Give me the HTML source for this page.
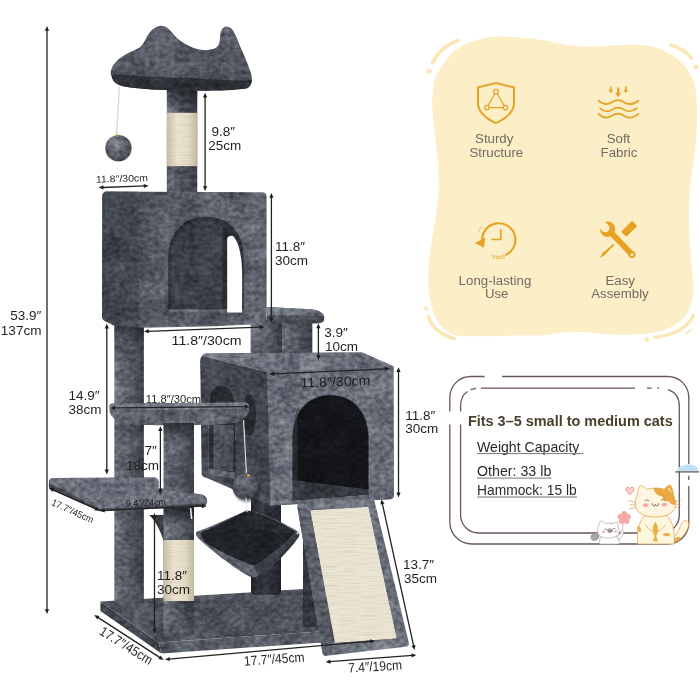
<!DOCTYPE html>
<html>
<head>
<meta charset="utf-8">
<title>Cat Tree Dimensions</title>
<style>
html,body{margin:0;padding:0;background:#fff;}
body{width:700px;height:700px;overflow:hidden;font-family:"Liberation Sans",sans-serif;}
svg{display:block;}
text{font-family:"Liberation Sans",sans-serif;}
.dim{fill:#1f1f1f;font-size:13.5px;}
.dims{fill:#1f1f1f;font-size:9.6px;}
.dims2{fill:#1f1f1f;font-size:10.4px;}
.ln2{stroke:#1c1c1c;stroke-width:1;fill:none;}
.lbl{fill:#716b62;font-size:13.25px;text-anchor:middle;}
.ln{stroke:#222;stroke-width:1.3;fill:none;}
.ah{fill:#1c1c1c;}
</style>
</head>
<body>
<svg width="700" height="700" viewBox="0 0 700 700">
<defs>

<linearGradient id="gPost" x1="0" x2="1" y1="0" y2="0">
<stop offset="0" stop-color="#7c818b"/><stop offset="0.25" stop-color="#6a6f79"/><stop offset="0.62" stop-color="#595e68"/><stop offset="1" stop-color="#42464e"/>
</linearGradient>
<linearGradient id="gPostD" x1="0" x2="1" y1="0" y2="0">
<stop offset="0" stop-color="#2a2d33"/><stop offset="0.4" stop-color="#3a3e46"/><stop offset="1" stop-color="#282b31"/>
</linearGradient>
<linearGradient id="gSisal" x1="0" x2="1" y1="0" y2="0">
<stop offset="0" stop-color="#c8bea6"/><stop offset="0.35" stop-color="#ebe4d0"/><stop offset="0.7" stop-color="#e4dcc6"/><stop offset="1" stop-color="#c2b8a0"/>
</linearGradient>
<linearGradient id="gFront" gradientUnits="userSpaceOnUse" x1="139" y1="200" x2="266" y2="230">
<stop offset="0" stop-color="#575c66"/><stop offset="0.35" stop-color="#666b75"/><stop offset="1" stop-color="#6e737d"/>
</linearGradient>
<linearGradient id="gSide" x1="0" x2="1" y1="0" y2="0">
<stop offset="0" stop-color="#464b54"/><stop offset="1" stop-color="#50555e"/>
</linearGradient>
<linearGradient id="gPerch" x1="0" x2="0" y1="0" y2="1">
<stop offset="0" stop-color="#686d77"/><stop offset="0.6" stop-color="#5a5f69"/><stop offset="1" stop-color="#50555e"/>
</linearGradient>
<linearGradient id="gShade" x1="0" x2="0" y1="0" y2="1"><stop offset="0" stop-color="#22252b" stop-opacity="0.75"/><stop offset="1" stop-color="#22252b" stop-opacity="0"/></linearGradient>
<radialGradient id="gBall" cx="0.4" cy="0.35" r="0.7">
<stop offset="0" stop-color="#868b95"/><stop offset="0.6" stop-color="#686d77"/><stop offset="1" stop-color="#484c55"/>
</radialGradient>
<filter id="plush" x="0" y="0" width="700" height="700" filterUnits="userSpaceOnUse" primitiveUnits="userSpaceOnUse" color-interpolation-filters="sRGB">
<feTurbulence type="fractalNoise" baseFrequency="0.2 0.24" numOctaves="2" seed="11" result="n"/>
<feColorMatrix in="n" type="matrix" values="0.34 0 0 0 0.33  0.34 0 0 0 0.33  0.34 0 0 0 0.33  0 0 0 0 1" result="fg"/>
<feTurbulence type="fractalNoise" baseFrequency="0.04 0.05" numOctaves="2" seed="3" result="c"/>
<feColorMatrix in="c" type="matrix" values="0.26 0 0 0 0.37  0.26 0 0 0 0.37  0.26 0 0 0 0.37  0 0 0 0 1" result="cg"/>
<feComposite in="fg" in2="cg" operator="arithmetic" k1="0" k2="1" k3="1" k4="-0.565" result="ng"/>
<feBlend in="ng" in2="SourceGraphic" mode="overlay" result="m"/>
<feComposite in="m" in2="SourceAlpha" operator="in"/>
</filter>
<filter id="sisalTex" x="0" y="0" width="700" height="700" filterUnits="userSpaceOnUse" primitiveUnits="userSpaceOnUse" color-interpolation-filters="sRGB">
<feTurbulence type="fractalNoise" baseFrequency="0.05 0.9" numOctaves="1" seed="5" result="n"/>
<feColorMatrix in="n" type="matrix" values="0 0 0 0 0.7  0 0 0 0 0.66  0 0 0 0 0.54  -0.8 0 0 0 0.42" result="dark"/>
<feMerge result="m"><feMergeNode in="SourceGraphic"/><feMergeNode in="dark"/></feMerge>
<feComposite in="m" in2="SourceAlpha" operator="in"/>
</filter>
<clipPath id="cpPerch"><path d="M112.6,79 C110.4,75 110.2,72.5 111.4,69 C113.5,63.5 117.5,59.5 122.9,56.1 C128,52.8 134,50.5 138.9,48.1 C142,46 144,42 146.5,37.5 C149.5,32 154,26.6 160.6,25.8 C164.5,25.8 167,27 169.5,29.7 C173,33.5 176,37.5 180,40.5 C185,44.2 191.5,47.5 198.3,49.3 C203,50.4 208,50.4 212,49.3 C215.5,48.3 217.6,46.8 218.9,44.2 C220.2,40.5 219.8,36.5 220.5,33 C221.5,28.8 223.5,26.6 226.5,26.6 C229.5,26.8 231.5,28.4 233,30.6 C236,35 237.6,40 239.6,45 C242,50.5 244.4,55.5 246.5,61 C248.6,66.5 250.8,71.5 251.8,76.7 C252.4,82 250,87.4 246.3,88.6 C233,90.4 215,91 197,90.8 L168.6,90 C155,90 138,89 122.9,86.3 C117,84.5 113.5,82.5 112.6,79 Z"/></clipPath>
<filter id="soft"><feGaussianBlur stdDeviation="1.2"/></filter>
<filter id="soft2"><feGaussianBlur stdDeviation="2.5"/></filter>

</defs>
<rect width="700" height="700" fill="#ffffff"/>

<!-- ===================== YELLOW FEATURE BLOB ===================== -->
<g id="blob">
<path d="M432,103 C432.5,95 433,88 434.5,81 C436.5,74 439.5,69 443,65 C446,59.5 450,55 454.3,51.3 C460,46.5 466,44 471.4,42.1 C480,39 488,36.8 497,36.6 C510,36.4 522,37 533,38.6 C548,41 560,44 570,45.3 C578,46.5 584,46.8 589,46.7 C598,46.5 606,45.5 614.6,45.2 C625,44.6 635,44.5 644,45.2 C652,46 660,48 666,51.4 C673,55 679,60 683,64 C688,70 691,75 693.5,80.5 C695.5,87 696.5,94 696.8,101.4 C697.3,115 697,130 695.9,143 C694.5,158 692,171 690.5,184.3 C689,198 688.5,212 688.9,225.7 C689.3,240 690.5,254 691.8,267 C692.8,276 693.6,284 693.6,290 C693.5,295 692.8,299 691.4,303 C690,307.5 688.5,311 686.3,314.3 C682.5,320 677.5,324 671.4,326.9 C666,329.5 660.5,331.5 654.3,332.6 C643,334.5 632,335 620,334.9 C604,334.5 592,332 576,332 C556,332 548,336 534,335.5 C510,335 486,337 464,336 C461,336 458.5,335.8 456.4,335.5 C449.5,333.5 444,330 440.5,325.6 C437,321.5 433.5,314 431.2,305 C429.5,299 428.5,292 428.5,285.7 C428.5,279 428.4,273 428.6,268 C429,260 430,254 431.4,243 C432.8,234 434.6,224 435.8,216 C437,208 438.4,200 438.7,192 C438.9,186 438.8,181 438.6,176 C438.3,165 437,154 435.7,142.9 C434,129 432.5,115 432,103 Z" fill="#fcefc7"/>
<g stroke="#f9e7b6" stroke-width="3.6" fill="none" stroke-linecap="round">
<path d="M432.6,62.7 Q440.4,46.4 458.3,40.4"/>
<path d="M670.9,45 Q684,48.5 691.4,58.1"/>
<path d="M428.3,316.8 Q434,333 454.4,338.4"/>
<path d="M654.8,337.5 Q684,334 693.5,315.5"/>
<path d="M685.5,333.5 L691.5,330" stroke-width="1.8"/>
</g>
<g fill="#f9e7b6">
<circle cx="429.1" cy="71.3" r="2.5"/>
<circle cx="696" cy="67" r="2.5"/>
<circle cx="426.2" cy="308.5" r="2.2"/>
<circle cx="646.9" cy="339.7" r="2.4"/>
</g>
</g>

<!-- ===================== ICONS ===================== -->
<g id="icons" fill="none" stroke="#e7a224" stroke-linecap="round" stroke-linejoin="round">
<!-- shield -->
<path d="M496,83 L514,87.4 L514,103 C514,112 506,118.5 496,123.2 C486,118.5 478,112 478,103 L478,87.4 Z" stroke-width="2"/>
<path d="M496,91.7 L486.9,107.6 L505.4,107.6 Z" stroke-width="1.2"/>
<circle cx="496" cy="91.7" r="2.3" fill="#fcefc7" stroke-width="1.2"/>
<circle cx="486.9" cy="107.6" r="2.3" fill="#fcefc7" stroke-width="1.2"/>
<circle cx="505.4" cy="107.6" r="2.3" fill="#fcefc7" stroke-width="1.2"/>
<!-- waves -->
<path d="M598.6,100.7 C603,104.8 608,105 612,102.3 C616,99.4 620,99.4 624,102.3 C628,105 633,104.8 638.4,100.7" stroke-width="1.7"/>
<path d="M600.2,108.3 C604,111.8 608.5,112 612,109.6 C616,106.9 620,106.9 624,109.6 C627.5,112 632,111.8 636.8,108.3" stroke-width="1.7"/>
<path d="M598.6,113.8 C603,118.3 608,118.5 612,115.8 C616,112.9 620,112.9 624,115.8 C628,118.5 633,118.3 638.4,113.8" stroke-width="1.7"/>
<g fill="#e7a224" stroke="none">
<path d="M610,86.6 h1.6 v3.4 h1.5 l-2.3,3.2 l-2.3,-3.2 h1.5 Z"/>
<path d="M617.1,87.6 h2.2 v5.2 h1.9 l-3,4.4 l-3,-4.4 h1.9 Z"/>
<path d="M625,86.6 h1.6 v3.4 h1.5 l-2.3,3.2 l-2.3,-3.2 h1.5 Z"/>
</g>
<!-- clock -->
<path d="M482.2,240 A16.6,16.6 0 1 1 505.5,255" stroke-width="2.1" stroke-linecap="butt"/>
<path d="M504.5,255.6 A16.6,16.6 0 0 1 492,255.4" stroke-width="2" stroke-dasharray="1.1,1.3" stroke-linecap="butt"/>
<path d="M505,258 A19,19 0 0 1 493,257.8" stroke-width="0.6"/>
<path d="M478.4,232 A20,20 0 0 1 481.5,226.5" stroke-width="0.6"/>
<path d="M475,242.9 L485.3,237.4 L483.9,247.6 Z" fill="#e7a224" stroke="none"/>
<path d="M500.7,229.3 L500.7,239.5 L491.4,239.5" stroke-width="1.7" stroke-linecap="butt" stroke-linejoin="miter"/>
<!-- tools -->
<g fill="#e7a224" stroke="none">
<circle cx="607.6" cy="229.2" r="7.7"/>
<path d="M610.5,232.1 L632,254.6" stroke="#e7a224" stroke-width="5.8" stroke-linecap="butt"/>
<circle cx="632" cy="254.6" r="3.5"/>
<circle cx="632" cy="254.7" r="1.5" fill="#fcefc7"/>
<g fill="#fcefc7">
<circle cx="605.2" cy="228" r="4.3"/>
<path d="M608.24,224.96 L602.16,231.04 L593.1,222 L599.2,215.9 Z"/>
</g>
<rect x="-7.8" y="-3.65" width="15.6" height="7.3" rx="1.2" transform="translate(629.2,228.8) rotate(-45)"/>
<path d="M613.0,243.8 L614.3,245.1 L607.2,252.3 C606.6,254 604.6,255.6 600,257.8 C602,253.4 603.6,251.4 605.6,250.8 Z"/>
</g>
</g>
<g id="labels" opacity="0.995">
<text class="lbl" x="494.2" y="143.1">Sturdy</text>
<text class="lbl" x="496.3" y="157.3">Structure</text>
<text class="lbl" x="618.5" y="143.1">Soft</text>
<text class="lbl" x="619" y="157.3">Fabric</text>
<text class="lbl" x="495" y="284.6" textLength="72.8" lengthAdjust="spacing">Long-lasting</text>
<text class="lbl" x="496.7" y="298.2">Use</text>
<text class="lbl" x="620.2" y="284.6">Easy</text>
<text class="lbl" x="620" y="298.2">Assembly</text>
</g>


<!-- ===================== INFO PANEL ===================== -->
<g id="panel" opacity="0.995">
<g fill="none" stroke="#6a5758" stroke-width="1.3">
<!-- outer frame -->
<path d="M502.2,376.5 L667.8,376.5 A21,21 0 0 1 688.8,397.5 L688.8,464"/>
<path d="M688.8,475.7 L688.8,480"/>
<path d="M688.8,486 L688.8,523 A21,21 0 0 1 667.8,544 L471.8,544 A22,22 0 0 1 449.8,522 L449.8,424.4"/>
<path d="M449.8,411.4 L449.8,397.5 A21,21 0 0 1 470.8,376.5 L484.6,376.5"/>
<!-- inner frame -->
<path d="M480.9,388.2 L635,388.2"/>
<path d="M647,388.2 L651.7,388.2 M657.3,388.2 L659,388.2"/>
<path d="M668,389.6 C675,392 679.3,398 679.3,406 L679.3,515 A18,18 0 0 1 661.3,533 L478.6,533 A18,18 0 0 1 460.6,515 L460.6,424.4"/>
<path d="M460.6,411.4 L460.6,406 C460.6,399 463,394.5 467.5,391.5"/>
<path d="M470.6,389.6 L476,388.4"/>
</g>
<text x="467.9" y="425.8" font-size="14.5" font-weight="bold" fill="#4a3f2b" textLength="204.8" lengthAdjust="spacingAndGlyphs">Fits 3–5 small to medium cats</text>
<g font-size="14.4" fill="#2b2b2b">
<text x="477" y="451.7" textLength="102.4" lengthAdjust="spacingAndGlyphs">Weight Capacity</text>
<text x="477" y="475.7" textLength="74.3" lengthAdjust="spacingAndGlyphs">Other: 33 lb</text>
<text x="477" y="494.5" textLength="99.7" lengthAdjust="spacingAndGlyphs">Hammock: 15 lb</text>
</g>
<g stroke="#777" stroke-width="1">
<path d="M477,453.6 L583.5,453.6 M477,478.1 L551.5,478.1 M477,497 L577,497"/>
</g>
<!-- lamp -->
<path d="M677,471.3 C677.5,466.5 683,464.4 688.6,464.4 C694,464.4 698.6,466.8 698.6,471.3 Z" fill="#bfe3f4"/>
<path d="M675.2,471.9 L699,471.9" stroke="#6a5758" stroke-width="1.3"/>
<!-- heart -->
<path d="M630,494.6 C627,492.4 625.6,490.4 626.2,488.6 C626.9,486.8 629,486.9 630,488.6 C631,486.9 633.2,486.8 633.8,488.6 C634.4,490.4 633,492.4 630,494.6 Z" fill="#fbd3cf" stroke="#ee8f90" stroke-width="0.9"/>
<!-- big cat tail -->
<path d="M673,538 C678,534 679.5,528 681.5,523.5 C683,520 687,519.6 688.3,522.6 C689.6,526 686,533 681.5,537.5 C678.5,540.5 675,542 672.5,542.4 Z" fill="#fff6df" stroke="#e2ab55" stroke-width="0.8"/>
<path d="M674,538.6 C676.5,536.8 679.2,536.4 681.5,537.5 C679,540.3 676,541.8 673,542.3 Z" fill="#eaa945"/>
<!-- big cat body -->
<path d="M644.5,516 C639,521 636.4,532 637.8,544 L674,544 C675.4,532 672.6,521 667,515.6 Z" fill="#fff6df" stroke="#e2ab55" stroke-width="0.8"/>
<path d="M637.6,526 C640.5,526 641.6,529.5 640.4,532.5 C639.4,531.8 638,531 637.3,531 Z" fill="#eaa945"/>
<path d="M662.8,534.4 C665.5,532.4 669.6,532.6 670.5,534.6 C669,536.6 665,537 662.8,534.4 Z" fill="#eaa945"/>
<!-- arms -->
<path d="M645.5,524.5 C648,529 651,531 654.5,531.6 M665.5,524.5 C663,529 660,531 656.5,531.6" fill="none" stroke="#e2ab55" stroke-width="0.8"/>
<!-- fish -->
<path d="M655.4,522.6 C658.2,526 658.4,531.5 655.9,536.2 L657.6,541.4 C656.2,540.8 654.7,540.8 653.3,541.4 L654.9,536.2 C652.4,531.5 652.6,526 655.4,522.6 Z" fill="#f0b03f" stroke="#d99a2f" stroke-width="0.5"/>
<!-- big cat head -->
<path d="M637.2,494.8 C637.6,490 639,486.2 640.3,485.6 C642,485.4 645,487.4 646.8,489.2 C652,487.6 659,487.6 664.2,489.2 C666,487 668.6,485 669.9,485 C671.6,485.6 673.2,490.6 673.6,495.6 C675.6,499.2 676.2,503.6 674.8,507.8 C672.4,514 664.6,517 655.4,517 C646.2,517 638.4,514 636,507.8 C634.6,503 635.2,498.6 637.2,494.8 Z" fill="#fff6df" stroke="#e2ab55" stroke-width="0.8"/>
<path d="M653.6,488.3 C657,487.8 661,488.2 664.2,489.2 C666,487 668.6,485 669.9,485 C671.6,485.6 673.2,490.6 673.6,495.6 C675,498.4 675.8,501.4 675.5,504.4 C672.8,505.4 670.2,504 669.4,501.6 C666,502 662.6,499.6 662.4,496.2 C658,496.4 654,492.6 653.6,488.3 Z" fill="#eaa945"/>
<path d="M667.4,489.6 C668.4,488.4 669.6,487.6 670,487.8 C670.8,489 671.4,491.4 671.6,493.6 Z" fill="#f6cf8f"/>
<!-- face -->
<g fill="none" stroke="#7a5a3a" stroke-width="0.8" stroke-linecap="round">
<path d="M645,500.6 Q646.9,498.6 648.8,500.6"/>
<path d="M661.2,500.2 Q663.1,498.2 665,500.2"/>
<path d="M652.2,503.6 Q652.6,506 654,506 Q655.4,506 655.4,504.2 Q655.6,506 657,506 Q658.6,506 658.8,503.6"/>
</g>
<ellipse cx="645.6" cy="505.2" rx="2.7" ry="1.9" fill="#f7a7ad"/>
<ellipse cx="664.4" cy="504.6" rx="2.7" ry="1.9" fill="#f7a7ad"/>
<g stroke="#b98b5a" stroke-width="0.6" stroke-linecap="round">
<path d="M628.8,500.6 L634.8,502.2 M629.8,504.8 L635.2,505 M629.6,509 L635.6,507.4"/>
<path d="M675.4,501.6 L680.6,499.6 M675.8,504 L680.2,504.6 M675.4,506.6 L679.4,508.4"/>
</g>
<!-- flower -->
<path d="M622.3,530.5 L623.6,521" stroke="#e9a5a0" stroke-width="0.8"/>
<g fill="#f6a9a8">
<circle cx="624.2" cy="513.9" r="2.9"/><circle cx="628" cy="516.6" r="2.9"/><circle cx="626.6" cy="521" r="2.9"/><circle cx="621.8" cy="521" r="2.9"/><circle cx="620.4" cy="516.6" r="2.9"/><circle cx="624.2" cy="517.8" r="3"/>
</g>
<!-- small cat -->
<ellipse cx="595" cy="536.8" rx="4.2" ry="3.4" fill="#a9a7a8" stroke="#8b8788" stroke-width="0.6" transform="rotate(-25 595 536.8)"/>
<path d="M599.6,544 C599,540 600.4,537.4 602.5,536.6 L616,536.6 C618.6,537.6 619.8,540.4 619.4,544 Z" fill="#ffffff" stroke="#aaa5a5" stroke-width="0.7"/>
<path d="M617.4,536.8 C619.6,535.6 621.2,533 621.4,530.4 C622.2,529.8 623.4,530.4 623.4,531.6 C623.4,535 621.4,538.4 618.4,540 Z" fill="#ffffff" stroke="#aaa5a5" stroke-width="0.7"/>
<path d="M598.4,526.4 C598.8,523.6 600,521.2 601,520.8 C602.4,521 604,522.4 605.2,523.6 C607.6,523 610.6,523 613,523.6 C614.4,522.6 616.4,521.8 617.4,522.2 C618,523.4 618.2,525.6 618,527.6 C619.6,530 619.6,533 617.8,535 C615.6,537.4 611.6,538 608.2,538 C604.6,538 600.8,537.2 598.8,535 C597,532.8 597,529.2 598.4,526.4 Z" fill="#ffffff" stroke="#aaa5a5" stroke-width="0.7"/>
<ellipse cx="610" cy="530.6" rx="3" ry="2.3" fill="#a9a7a8"/>
<ellipse cx="603.6" cy="532" rx="1.7" ry="1.2" fill="#f7b3b6"/>
<ellipse cx="615.8" cy="531.4" rx="1.7" ry="1.2" fill="#f7b3b6"/>
<g fill="none" stroke="#5a4a4a" stroke-width="0.7" stroke-linecap="round">
<path d="M604.4,529.4 Q605.4,528.4 606.4,529.4 M613.2,528.8 Q614.2,527.8 615.2,528.8"/>
<path d="M608.6,530.8 Q609.2,531.8 610,531 Q610.8,531.8 611.4,530.8"/>
</g>

</g>


<!-- ===================== CAT TREE ===================== -->
<g id="tree" filter="url(#plush)">
<!-- base -->
<g id="base">
<path d="M100.4,601.6 L303,589 L345,589 L372,628 L158.7,642.4 Z" fill="#5a5f69"/>
<path d="M100.4,601.6 L158.7,642.4 L161.3,653.6 L100.4,611 Z" fill="#4d525b"/>
<path d="M158.7,642.4 L372,628 L374,639 L161.3,653.6 Z" fill="#676c76"/>
</g>
<!-- rear posts -->
<rect x="114.3" y="322" width="29.6" height="282" rx="3" fill="url(#gPost)"/>
<rect x="114.3" y="326" width="29.6" height="18" fill="url(#gShade)"/>
<rect x="251" y="495" width="30" height="100" rx="4" fill="url(#gPostD)"/>
<rect x="303" y="500" width="19" height="127" rx="3" fill="#3a3e46"/>
<!-- top post -->
<rect x="166.8" y="84" width="30.5" height="108" fill="url(#gPost)"/>
<rect x="166.8" y="88" width="30.5" height="22" fill="url(#gShade)"/>
<!-- top perch -->
<g id="topperch">
<path d="M112.6,79 C110.4,75 110.2,72.5 111.4,69 C113.5,63.5 117.5,59.5 122.9,56.1 C128,52.8 134,50.5 138.9,48.1 C142,46 144,42 146.5,37.5 C149.5,32 154,26.6 160.6,25.8 C164.5,25.8 167,27 169.5,29.7 C173,33.5 176,37.5 180,40.5 C185,44.2 191.5,47.5 198.3,49.3 C203,50.4 208,50.4 212,49.3 C215.5,48.3 217.6,46.8 218.9,44.2 C220.2,40.5 219.8,36.5 220.5,33 C221.5,28.8 223.5,26.6 226.5,26.6 C229.5,26.8 231.5,28.4 233,30.6 C236,35 237.6,40 239.6,45 C242,50.5 244.4,55.5 246.5,61 C248.6,66.5 250.8,71.5 251.8,76.7 C252.4,82 250,87.4 246.3,88.6 C233,90.4 215,91 197,90.8 L168.6,90 C155,90 138,89 122.9,86.3 C117,84.5 113.5,82.5 112.6,79 Z" fill="url(#gPerch)"/>
<!-- underside -->
<path d="M112.2,75.6 C118,75 124,75.6 130,76.4 C143,77.6 156,78 168,78.4 C179,78.8 190,79.4 200,79.8 C216,80.6 232,81.4 246,81.8 C248.4,81.8 250.4,81.2 251.8,80 C252,84 249.6,87.6 246.3,88.6 C233,90.4 215,91 197,90.8 L168.6,90 C155,90 138,89 122.9,86.3 C117,84.5 113.5,82.5 112.6,79 C112.2,78 112,76.8 112.2,75.6 Z" fill="#363a41"/>
<path d="M112.2,75.2 C118,74.6 124,75.2 130,76 C143,77.2 156,77.6 168,78 C179,78.4 190,79 200,79.4 C216,80.2 232,81 246,81.4 C248.4,81.4 250.4,80.8 251.8,79.6" fill="none" stroke="#2e3137" stroke-width="1.1"/>
<!-- highlights -->
<g clip-path="url(#cpPerch)">
<path d="M150,36 C154,29.5 158,27.5 162,28.2 C167,30 172,37 178,42 C170,42 158,42 150,36 Z" fill="#7b808a" opacity="0.5" filter="url(#soft)"/>
<path d="M224,30 C227,28 230,30 232.5,35 C236,42 240,52 244,61 C236,56 228,46 224,30 Z" fill="#7b808a" opacity="0.45" filter="url(#soft)"/>
<path d="M118,64 C135,54 160,52 185,54 C205,56 225,58 245,68 C220,74 150,74 118,64 Z" fill="#71767f" opacity="0.4" filter="url(#soft2)"/>
<path d="M185,48 C195,52 210,53 220,47 C222,56 200,60 185,48 Z" fill="#3d4149" opacity="0.5" filter="url(#soft2)"/>
</g>
</g>
<!-- upper condo -->
<g id="ucondo">
<path d="M106.5,191.6 L262.5,192.2 C265,192.2 266.6,193.8 266.6,196.4 L266.6,323.8 L215,326.3 L143,327.8 L139,327.6 L114,325.4 L105,321 C103,320 102,318.6 102,316.4 L102.4,195.8 C102.4,193.2 104,191.6 106.5,191.6 Z" fill="url(#gFront)"/>
<path d="M106.5,191.6 L139,191.8 L139,327.6 L114,325.4 L105,321 C103,320 102,318.6 102,316.4 L102.4,195.8 C102.4,193.2 104,191.6 106.5,191.6 Z" fill="url(#gSide)"/>
<!-- opening -->
<path d="M167.4,311.2 L167.4,258 C167.4,232 183,215.9 206,215.9 C229,215.9 244.5,232 244.5,258 L244.5,311.2 Z" fill="#383c43"/>
<path d="M171.5,308.6 L171.5,258 C171.5,236 185,220.4 205,220.4 C213,220.4 219,222.6 222.6,226 L222.6,308.6 Z" fill="#454a53"/>
<path d="M222.6,226 C224.4,227.6 226,229.4 227.2,231.4 L227.2,308.6 L222.6,308.6 Z" fill="#2f3239"/>
<path d="M168,309.4 L244.5,309.4 L244.5,324 L168,325.2 Z" fill="#5f646e"/>
<path d="M168,309.4 L244.5,309.4 L244.5,312.6 L168,312.6 Z" fill="#747983"/>
<path d="M167.4,311.2 L167.4,258 C167.4,232 183,215.9 206,215.9 C229,215.9 244.5,232 244.5,258 L244.5,311.2" fill="none" stroke="#6b707a" stroke-width="1.6" opacity="0.8"/>
</g>
<!-- shelf + posts -->
<g id="shelf">
<rect x="250.6" y="320" width="31.6" height="35" rx="3" fill="url(#gPost)"/>
<rect x="282" y="320" width="30.4" height="39" rx="4" fill="url(#gPost)"/>
<path d="M266.6,307 L310.6,309.2 C317,309.8 322,312 324.2,315.7 L324.2,320 C323.6,322.4 321,323.4 317,323.4 L266.6,323 Z" fill="#565b65"/>
<path d="M266.6,307 L310.6,309.2 C317,309.8 322,312 324.2,315.7 L266.6,315 Z" fill="#7d828c"/>
</g>
<!-- lower condo -->
<g id="lcondo">
<path d="M206,353.4 L362,352.4 L393.4,366.2 L393.8,496 L390.6,499.3 L270.6,505.4 L204.4,477 L200.4,361 Z" fill="#595e68"/>
<!-- top face -->
<path d="M205,353.4 L362,352.4 L393.4,366.2 L267,372.6 L201.4,358.6 C201.4,355.6 203,353.6 205,353.4 Z" fill="#7c818b"/>
<!-- side face -->
<path d="M202.6,356.2 C208,357.6 240,366 267,372.4 L270.6,505 C262,503 254,499 246,493.6 C240,489.6 236,487.4 232,486 L204.4,477 C202.6,476.4 201.6,475.2 201.6,473.4 L200.2,361 C200.2,358.4 201,356.6 202.6,356.2 Z" fill="#4c5059"/>
<!-- front face -->
<path d="M267,372.4 L393.4,366.2 L393.8,496 C393.8,498 392.6,499.2 390.6,499.3 L270.6,505.4 Z" fill="#787d87"/>
<!-- side openings -->
<path d="M208.6,474 L208.6,406 C208.6,392 213.6,385 221,385 C229.6,385 235.6,394 235.6,410 L235.6,479 Z" fill="#2f3339"/>
<path d="M213.4,469.4 L213.4,425 L233.6,425 L233.6,471.4 Z" fill="#585d67"/>
<path d="M209.4,468.6 L234.6,472.4 L235.4,479 L209.4,474.6 Z" fill="#6a6f79"/>
<ellipse cx="249.4" cy="415" rx="6.6" ry="21" fill="#2d3036"/>
<path d="M208.6,474 L208.6,406 C208.6,392 213.6,385 221,385 C229.6,385 235.6,394 235.6,410 L235.6,440" fill="none" stroke="#6f747e" stroke-width="1.2" opacity="0.6"/>
<!-- front opening -->
<path d="M292,500.4 L292,437 C292,412 308,394.5 330.5,394.5 C353,394.5 369,412 369,437 L369,494.2 Z" fill="#16181d"/>
<path d="M292.6,499 L292.6,440 C292.6,428 294.6,416 297.6,409 L297.6,482 Z" fill="#30343b" opacity="0.7"/>
<path d="M292,480 L369,489.5 L369,494.2 L292,500.5 Z" fill="#3f434b"/>
<path d="M292,500.4 L292,437 C292,412 308,394.5 330.5,394.5 C353,394.5 369,412 369,437 L369,494.2" fill="none" stroke="#858a94" stroke-width="1.4" opacity="0.6"/>
</g>
<!-- mid perch -->
<g id="midperch">
<path d="M109.4,406.4 C109.4,404.8 110.6,403.8 113,403.6 L245,402.4 C247.8,402.4 249.2,403.8 249.2,406.2 L249,411 C247.6,417.6 240,422.4 228,423.8 C205,425.6 155,425.8 130,424.2 C118,423 110.6,418 109.6,411.6 Z" fill="#6c717b"/>
<path d="M109.4,406.4 C109.4,404.8 110.6,403.8 113,403.6 L245,402.4 C247.8,402.4 249.2,403.8 249.2,406.2 C249,407.6 248,408.4 246,408.6 C200,410.2 150,410.4 113,409.2 C110.8,409 109.6,408 109.4,406.4 Z" fill="#848993"/>
</g>
<!-- second post -->
<rect x="163.5" y="423" width="30.5" height="211.5" rx="3" fill="url(#gPost)"/>
<rect x="163.5" y="423" width="30.5" height="16" fill="url(#gShade)"/>
<rect x="163.5" y="508" width="30.5" height="16" fill="url(#gShade)"/>
<!-- hammock -->
<g id="hammock">
<path d="M149,515 C155,520 160,530 163.8,541 L163.8,515 Z" fill="#3a3e46"/>
<path d="M197,531.6 C212,526 232,517 246.7,510.2 C262,512 282,522 297,531 C299.6,532.4 300,535 298.6,537 C288,552 272,568 258,576 C254.6,577.8 250.6,577.4 247,575.2 C230,565 212,551 198,538 C195.6,535.6 195.4,532.8 197,531.6 Z" fill="#666b75"/>
<path d="M258,576 C272,568 288,552 298.6,537 C299.4,535.6 299.6,534 299,532.8 L294,533 C283,546 268,558.6 254,566.4 Z" fill="#40444c"/>
<path d="M200,533 C214,527 233,517.6 246.7,510.8 C262,512.6 281,522.4 295,532 C284,545 268,558 254,565.8 C238,560 219,551.4 205,542.6 Z" fill="#24272d"/>
<path d="M246.7,510.8 C262,512.6 281,522.4 295,532 C280,534 262,532 246,526 Z" fill="#30333a" opacity="0.8"/>
</g>
<!-- L platform -->
<g id="lplat">
<path d="M53,478 L154,477.4 C157,477.4 158.4,479 158.4,481.6 L158.4,488 L201,494.4 C205,495 207.4,498 207.2,501 C207,503.6 206,505.6 204.6,506.2 L101,511.4 C99.6,511.4 98.6,511 97.4,510.4 L50.6,489.4 C49.2,488.6 48.6,487.4 48.8,485.4 L49,481.6 C49.4,479.2 50.8,478 53,478 Z" fill="#50555e"/>
<path d="M53,478 L154,477.4 C157,477.4 158.4,479 158.4,481.6 L158.4,488 L201,494.4 C205,495 207.4,498 207.2,501 C207,502.4 206.4,503.2 205.6,503.6 L100.4,508.8 C99.4,508.8 98.6,508.6 97.6,508.2 L49.4,483 C49.6,480 50.8,478 53,478 Z" fill="#7b808a"/>
</g>
<!-- ramp -->
<g id="ramp">
<path d="M300,503.6 L370.6,498.4 C372.6,498.2 374,499.2 374.6,501.4 L408.8,642.6 C409.4,645 408.2,646.6 405.8,646.8 L326.6,655.8 C324.2,656 322.8,655 322.4,652.6 L297.4,507.4 C297,505 297.8,503.8 300,503.6 Z" fill="#7d828c"/>
<path d="M297.4,507.4 L322.4,652.6 C322.8,655 324.2,656 326.6,655.8 L334.9,643 L310.2,510 Z" fill="#676c76"/>
</g>
<!-- balls + strings -->
<g id="balls">
<circle cx="118.5" cy="148.2" r="13.2" fill="url(#gBall)"/>
<ellipse cx="247" cy="489" rx="13.5" ry="13" fill="#33363d" opacity="0.7" filter="url(#soft)"/>
<circle cx="245.2" cy="486.8" r="12.8" fill="url(#gBall)"/>
</g>



</g>


<!-- ===================== SISAL / WHITE OVERLAYS ===================== -->
<g id="sisal" filter="url(#sisalTex)">
<rect x="166.8" y="112.6" width="30.5" height="53.8" fill="url(#gSisal)"/>
<rect x="163.5" y="540" width="30.5" height="61" fill="url(#gSisal)"/>
<path d="M310.2,510.2 L368.4,506.8 L396.8,638.4 L334.9,643 Z" fill="#e9e4d3"/>
</g>
<g id="whites">
<path d="M227.2,312.4 L227.2,238 C229,236 231.5,235.4 233.2,236.2 C238.4,241.4 242,255 242.2,275 L242,312.4 L227.2,312.4 Z" fill="#ffffff"/>
<path d="M119.4,86.3 C118.6,100 117.6,118 116.6,134.6" stroke="#d9d9d9" stroke-width="1.3" fill="none"/>
<path d="M243.6,420 L246.4,473.4" stroke="#e4e4e4" stroke-width="1.1" fill="none"/>
<path d="M246,498 L247,512" stroke="#e4e4e4" stroke-width="1.1" fill="none"/>
<path d="M190.6,508 L191.6,519" stroke="#e8e8e8" stroke-width="1.6"/>
<path d="M300,530 L297,534" stroke="#e8e8e8" stroke-width="1.6"/>
<circle cx="116.8" cy="135.2" r="1.3" fill="#c9a23a"/>
<circle cx="248.4" cy="475.4" r="1.4" fill="#d4a62a"/>
</g>
<!-- ===================== DIMENSIONS ===================== -->
<g id="dims" opacity="0.995">
<path class="ln" d="M47.0,29.8 L47.0,610.2"/>
<path class="ah" d="M47.0,26.0 L44.9,30.8 L49.1,30.8 Z M47.0,614.0 L44.9,609.2 L49.1,609.2 Z"/>
<text class="dim" x="41.4" y="320.3" text-anchor="end">53.9″</text>
<text class="dim" x="41.4" y="334.5" text-anchor="end">137cm</text>
<path class="ln" d="M205.1,96.5 L205.1,187.2"/>
<path class="ah" d="M205.1,92.7 L203.0,97.5 L207.2,97.5 Z M205.1,191.0 L203.0,186.2 L207.2,186.2 Z"/>
<text class="dim" x="211.4" y="135.8">9.8″</text>
<text class="dim" x="208.2" y="150">25cm</text>
<path class="ln" d="M102.4,187.5 L144.8,185.9"/>
<path class="ah" d="M98.6,187.6 L103.5,189.5 L103.3,185.3 Z M148.6,185.8 L143.9,188.1 L143.7,183.9 Z"/>
<text class="dims" transform="translate(95.9,182.7) rotate(-1.8)" textLength="52.3" lengthAdjust="spacingAndGlyphs">11.8″/30cm</text>
<path class="ln" d="M271.4,196.8 L271.4,318.7"/>
<path class="ah" d="M271.4,193.0 L269.3,197.8 L273.5,197.8 Z M271.4,322.5 L269.3,317.7 L273.5,317.7 Z"/>
<text class="dim" x="274.9" y="251.4">11.8″</text>
<text class="dim" x="274.9" y="265.3">30cm</text>
<path class="ln" d="M147.8,331.3 L260.8,327.1"/>
<path class="ah" d="M144.0,331.4 L148.9,333.3 L148.7,329.1 Z M264.6,327.0 L259.9,329.3 L259.7,325.1 Z"/>
<text class="dim" x="171.6" y="345.4" textLength="70" lengthAdjust="spacingAndGlyphs">11.8″/30cm</text>
<path class="ln" d="M318.4,327.2 L318.4,356.2"/>
<path class="ah" d="M318.4,323.4 L316.3,328.2 L320.5,328.2 Z M318.4,360.0 L316.3,355.2 L320.5,355.2 Z"/>
<text class="dim" x="324.2" y="337.1">3.9″</text>
<text class="dim" x="325" y="350.7">10cm</text>
<path class="ln" d="M273.3,373.8 L386.0,368.8"/>
<path class="ah" d="M269.5,374.0 L274.4,375.9 L274.2,371.7 Z M389.8,368.6 L385.1,370.9 L384.9,366.7 Z"/>
<text class="dim" transform="translate(300.7,387.6) rotate(-2.2)" textLength="70" lengthAdjust="spacingAndGlyphs">11.8″/30cm</text>
<path class="ln" d="M398.5,371.0 L398.5,493.6"/>
<path class="ah" d="M398.5,367.2 L396.4,372.0 L400.6,372.0 Z M398.5,497.4 L396.4,492.6 L400.6,492.6 Z"/>
<text class="dim" x="405.2" y="419.6">11.8″</text>
<text class="dim" x="405.2" y="433">30cm</text>
<path class="ln" d="M106.8,327.5 L106.8,470.6"/>
<path class="ah" d="M106.8,323.7 L104.7,328.5 L108.9,328.5 Z M106.8,474.4 L104.7,469.6 L108.9,469.6 Z"/>
<text class="dim" x="68.6" y="400.3">14.9″</text>
<text class="dim" x="68.6" y="414">38cm</text>
<path class="ln" d="M114.0,407.9 L245.8,406.7"/>
<path class="ah" d="M110.2,407.9 L115.0,410.0 L115.0,405.8 Z M249.6,406.7 L244.8,408.8 L244.8,404.6 Z"/>
<text class="dims2" x="145.8" y="402.7" textLength="55.4" lengthAdjust="spacingAndGlyphs">11.8″/30cm</text>
<path class="ln" d="M160.4,430.1 L160.4,490.6"/>
<path class="ah" d="M160.4,426.3 L158.3,431.1 L162.5,431.1 Z M160.4,494.4 L158.3,489.6 L162.5,489.6 Z"/>
<text class="dim" x="144.6" y="455.1">7″</text>
<text class="dim" x="126" y="469.5">18cm</text>
<path class="ln" d="M52.5,489.6 L96.2,509.0"/>
<path class="ah" d="M49.0,488.0 L52.5,491.9 L54.2,488.0 Z M99.7,510.6 L94.5,510.6 L96.2,506.7 Z"/>
<text class="dims" transform="translate(50.8,504.8) rotate(24.5)" textLength="45" lengthAdjust="spacingAndGlyphs">17.7″/45cm</text>
<path class="ln" d="M103.7,510.4 L202.8,506.2"/>
<path class="ah" d="M99.9,510.6 L104.8,512.5 L104.6,508.3 Z M206.6,506.0 L201.9,508.3 L201.7,504.1 Z"/>
<text class="dims" transform="translate(126.1,506.8) rotate(-2.2)" textLength="40" lengthAdjust="spacingAndGlyphs">9.4″/24cm</text>
<path class="ln" d="M154.5,516.8 L154.5,629.8"/>
<path class="ah" d="M154.5,513.0 L152.4,517.8 L156.6,517.8 Z M154.5,633.6 L152.4,628.8 L156.6,628.8 Z"/>
<text class="dim" x="157" y="580.2">11.8″</text>
<text class="dim" x="157" y="594.2">30cm</text>
<path class="ln" d="M97.5,617.1 L160.4,657.9"/>
<path class="ah" d="M94.3,615.0 L97.2,619.4 L99.5,615.9 Z M163.6,660.0 L158.4,659.1 L160.7,655.6 Z"/>
<text class="dim" transform="translate(98.6,633.8) rotate(32)" textLength="59.5" lengthAdjust="spacingAndGlyphs">17.7″/45cm</text>
<path class="ln" d="M168.8,659.1 L371.2,641.2"/>
<path class="ah" d="M165.0,659.4 L170.0,661.1 L169.6,656.9 Z M375.0,640.9 L370.4,643.4 L370.0,639.2 Z"/>
<text class="dim" transform="translate(244.3,665.8) rotate(-4.1)" textLength="60.6" lengthAdjust="spacingAndGlyphs">17.7″/45cm</text>
<path class="ln" d="M382.2,503.2 L413.7,646.2"/>
<path class="ah" d="M381.4,499.4 L380.4,504.5 L384.5,503.6 Z M414.5,650.0 L411.4,645.8 L415.5,644.9 Z"/>
<text class="dim" x="403" y="568.6">13.7″</text>
<text class="dim" x="404" y="583">35cm</text>
<path class="ln" d="M329.5,661.7 L412.5,655.4"/>
<path class="ah" d="M325.7,662.0 L330.6,663.7 L330.3,659.5 Z M416.3,655.1 L411.7,657.6 L411.4,653.4 Z"/>
<text class="dim" transform="translate(348.6,672.4) rotate(-3)" textLength="53.7" lengthAdjust="spacingAndGlyphs">7.4″/19cm</text>
</g>


</svg>
</body>
</html>
